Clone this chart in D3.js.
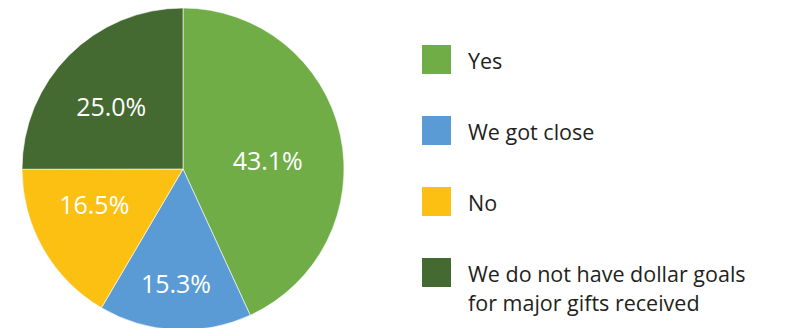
<!DOCTYPE html>
<html>
<head>
<meta charset="utf-8">
<script src="https://cdn.jsdelivr.net/npm/d3@7/dist/d3.min.js"></script>
<style>
  html, body { margin: 0; padding: 0; background: #fff; }
  svg { display: block; }
  text { font-family: "Open Sans", Lato, "Noto Sans", sans-serif; }
</style>
</head>
<body>
<svg id="chart" width="785" height="328"></svg>
<script>
// Survey responses: did the organisation meet its major-gift dollar goal?
const categories = [
  "Yes",
  "We got close",
  "No",
  "We do not have dollar goals for major gifts received"
];
const values = [43.1, 15.3, 16.5, 25.0];
const colors = ["#70AD47", "#5B9BD5", "#FBC012", "#446A32"];
// Legend lines (long label wrapped onto two lines)
const legendLines = [
  ["Yes"],
  ["We got close"],
  ["No"],
  ["We do not have dollar goals", "for major gifts received"]
];

const svg = d3.select("#chart");

const cx = 183, cy = 169, R = 161;

const pie = d3.pie().sort(null).value(d => d)
  .startAngle(0).endAngle(2 * Math.PI);
const arcs = pie(values);

const arc = d3.arc().innerRadius(0).outerRadius(R);
const labelArc = d3.arc().innerRadius(100).outerRadius(100);

const color = d3.scaleOrdinal().domain(d3.range(values.length)).range(colors);

const g = svg.append("g").attr("transform", `translate(${cx},${cy})`);

g.selectAll("path.slice")
  .data(arcs)
  .join("path")
  .attr("class", "slice")
  .attr("d", arc)
  .attr("fill", (d, i) => color(i))
  .attr("stroke", "#fff")
  .attr("stroke-width", 0.6);

// Small nudges so labels sit where the layout engine places them
const labelNudge = [[-13, 14], [-2, 15], [-2, -13], [-1, 9]];

g.selectAll("text.val")
  .data(arcs)
  .join("text")
  .attr("class", "val")
  .attr("x", (d, i) => labelArc.centroid(d)[0] + labelNudge[i][0])
  .attr("y", (d, i) => labelArc.centroid(d)[1] + labelNudge[i][1])
  .attr("dy", "0.35em")
  .attr("text-anchor", "middle")
  .attr("fill", "#fff")
  .attr("font-size", 25)
  .text(d => d3.format(".1f")(d.value) + "%");

// Legend
const legend = svg.append("g").attr("transform", "translate(422,45)");
const step = 71;
const item = legend.selectAll("g.item")
  .data(categories)
  .join("g")
  .attr("class", "item")
  .attr("transform", (d, i) => `translate(0,${i * step})`);

item.append("rect")
  .attr("width", 29)
  .attr("height", 29)
  .attr("fill", (d, i) => color(i));

item.append("text")
  .attr("x", 46)
  .attr("y", 24)
  .attr("font-size", 21.5)
  .attr("fill", "#231F20")
  .selectAll("tspan")
  .data((d, i) => legendLines[i])
  .join("tspan")
  .attr("x", 46)
  .attr("dy", (d, j) => j === 0 ? 0 : 29)
  .text(d => d);
</script>
</body>
</html>
